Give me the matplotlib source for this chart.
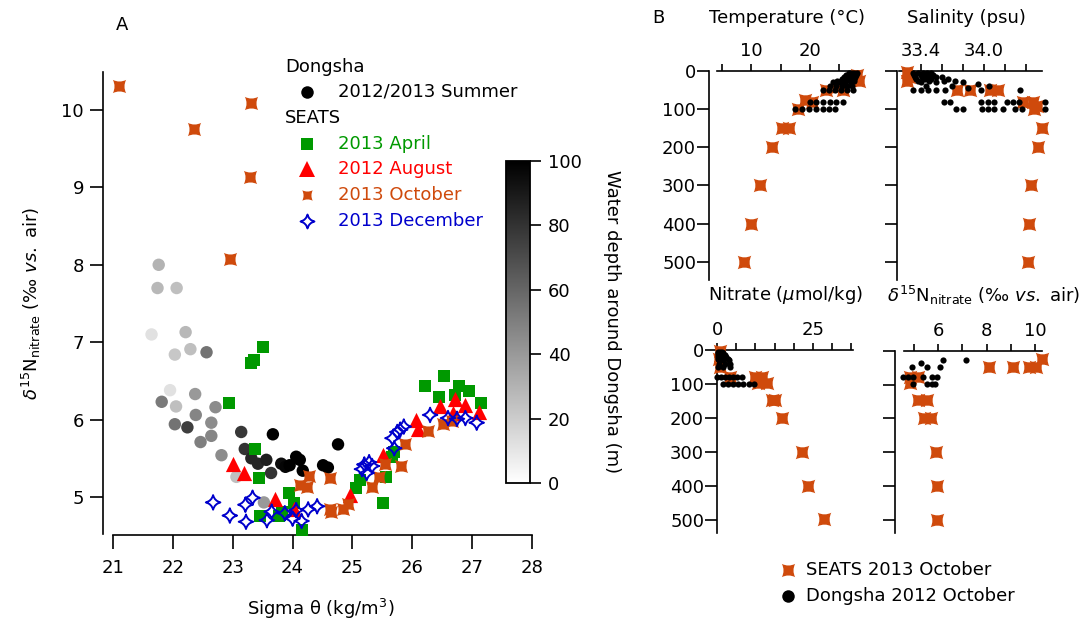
import numpy as np
import matplotlib
matplotlib.use("Agg")
import matplotlib.pyplot as plt
from matplotlib.path import Path
from matplotlib.lines import Line2D

plt.rcParams['font.family'] = ['DejaVu Sans']
plt.rcParams['font.size'] = 13
plt.rcParams['axes.linewidth'] = 1.2

# ---- panel A : d15N vs sigma-theta ----
# Dongsha 2012/2013 summer (colour = water depth, m)
dongsha_sigma = [21.76, 21.74, 22.06, 21.64, 22.21, 22.03, 22.29, 22.56, 21.95, 21.81, 22.05, 22.37, 22.38,
                 22.71, 22.03, 22.24, 22.64, 22.64, 22.46, 22.81, 23.06, 23.52, 23.14, 23.20, 23.31, 23.42,
                 23.56, 23.64, 23.67, 23.81, 23.88, 23.95, 24.06, 24.12, 24.17, 24.51, 24.59, 24.76]
dongsha_d15n = [8.00, 7.70, 7.70, 7.10, 7.13, 6.84, 6.91, 6.87, 6.38, 6.23, 6.17, 6.33, 6.06,
                6.16, 5.94, 5.90, 5.96, 5.79, 5.71, 5.54, 5.26, 4.93, 5.84, 5.62, 5.50, 5.43,
                5.48, 5.31, 5.81, 5.43, 5.39, 5.41, 5.52, 5.48, 5.34, 5.41, 5.38, 5.68]
dongsha_depth = [30, 28, 25, 12, 28, 22, 25, 55, 12, 52, 25, 40, 48,
                 45, 55, 75, 45, 48, 50, 45, 25, 40, 78, 80, 85, 85,
                 88, 80, 100, 95, 98, 100, 100, 100, 100, 100, 100, 100]

# SEATS
apr_sigma = [22.94, 23.31, 23.35, 23.51, 23.37, 23.44, 23.45, 23.78, 23.83, 23.94, 24.03, 24.15, 25.06,
             25.12, 25.51, 25.56, 25.66, 25.70, 26.21, 26.45, 26.53, 26.71, 26.78, 26.95, 27.16]
apr_d15n = [6.21, 6.73, 6.77, 6.94, 5.62, 5.25, 4.75, 4.75, 4.80, 5.05, 4.92, 4.57, 5.12,
            5.22, 4.92, 5.26, 5.52, 5.58, 6.43, 6.29, 6.56, 6.32, 6.44, 6.37, 6.21]
aug_sigma = [23.01, 23.19, 23.71, 24.02, 24.96, 25.51, 26.06, 26.09, 26.47, 26.68, 26.71, 26.89, 27.12]
aug_d15n = [5.43, 5.31, 4.98, 4.84, 5.03, 5.54, 5.99, 5.88, 6.17, 6.08, 6.27, 6.19, 6.10]
oct_sigma = [21.10, 22.35, 23.30, 23.28, 22.96, 24.12, 24.24, 24.27, 24.62, 24.62, 24.64, 24.84, 24.93,
             25.32, 25.44, 25.54, 25.81, 25.88, 26.27, 26.51, 26.66]
oct_d15n = [10.31, 9.75, 10.09, 9.13, 8.08, 5.15, 5.13, 5.27, 5.25, 4.85, 4.80, 4.85, 4.91,
            5.13, 5.26, 5.43, 5.40, 5.69, 5.85, 5.94, 5.98]
dec_sigma = [22.67, 22.95, 23.21, 23.22, 23.33, 23.57, 23.65, 23.87, 24.00, 24.06, 24.15, 24.26, 24.41,
             25.16, 25.20, 25.24, 25.28, 25.33, 25.67, 25.70, 25.75, 25.80, 25.86, 26.30, 26.60, 26.75,
             26.89, 27.08]
dec_d15n = [4.93, 4.76, 4.90, 4.68, 4.99, 4.70, 4.81, 4.79, 4.72, 4.83, 4.69, 4.84, 4.88,
            5.36, 5.42, 5.31, 5.45, 5.40, 5.76, 5.63, 5.84, 5.87, 5.91, 6.06, 6.02, 6.01,
            6.02, 5.96]

# ---- panel B : depth profiles ----
# SEATS 2013 October
prof_t_depth = [10, 25, 43, 50, 50, 77, 80, 100, 150, 150, 200, 300, 400, 500]
prof_temp = [28.0, 28.4, 24.6, 22.8, 25.7, 19.2, 20.3, 18.0, 15.2, 16.5, 13.6, 11.4, 10.0, 8.8]
prof_s_depth = [3, 15, 25, 50, 50, 50, 50, 80, 80, 100, 93, 150, 200, 300, 400, 500]
prof_sal = [33.27, 33.29, 33.27, 33.75, 33.87, 34.06, 34.13, 34.37, 34.47, 34.48, 34.50, 34.55,
            34.51, 34.45, 34.43, 34.42]
prof_n_depth = [3, 25, 50, 78, 78, 78, 98, 98, 147, 147, 199, 299, 400, 498]
prof_nit = [0.8, 0.4, 0.6, 3.3, 9.9, 11.6, 10.7, 13.1, 14.2, 15.1, 16.9, 22.3, 23.7, 28.0]
prof_dn_depth = [25, 47, 47, 47, 47, 77, 77, 96, 146, 146, 200, 200, 300, 400, 500]
prof_dn = [10.3, 8.08, 9.1, 9.76, 10.03, 4.83, 5.18, 4.83, 5.18, 5.52, 5.41, 5.72, 5.90, 5.93, 5.97]

# Dongsha 2012 October
ds_t_depth = [5, 5, 5, 5, 10, 10, 10, 10, 15, 15, 15, 15, 20, 20, 20, 20, 25, 25, 25, 25, 25,
              30, 30, 30, 30, 40, 40, 40, 40, 40, 50, 50, 50, 50, 50, 50,
              80, 80, 80, 80, 80, 80, 100, 100, 100, 100, 100, 100, 100]
ds_temp = [26.6, 27.1, 27.6, 28.1, 26.2, 26.8, 27.3, 27.9, 25.8, 26.5, 27.1, 27.7, 25.4, 26.2, 27.0, 27.6,
           24.6, 25.3, 26.0, 26.8, 27.5, 24.0, 25.0, 26.0, 27.0, 23.4, 24.4, 25.4, 26.4, 27.2,
           22.3, 23.3, 24.3, 25.3, 26.3, 27.3, 20.0, 21.1, 22.2, 23.4, 24.5, 25.6,
           17.5, 18.6, 19.8, 21.0, 22.2, 23.3, 24.3]
ds_s_depth = [5, 5, 5, 5, 5, 10, 10, 10, 10, 15, 15, 15, 15, 15, 20, 20, 20, 20, 25, 25, 25, 25,
              30, 30, 30, 35, 40, 40, 40, 45, 50, 50, 50, 50, 50, 50, 50,
              80, 80, 80, 80, 80, 80, 80, 80, 80, 100, 100, 100, 100, 100, 100, 100, 100, 100]
ds_sal = [33.33, 33.38, 33.42, 33.46, 33.50, 33.34, 33.40, 33.45, 33.52, 33.35, 33.41, 33.47, 33.55, 33.60,
          33.36, 33.44, 33.50, 33.66, 33.38, 33.48, 33.62, 33.73, 33.40, 33.55, 33.80, 33.94,
          33.45, 33.70, 34.05, 33.85, 33.33, 33.40, 33.47, 33.55, 33.63, 33.97, 34.34,
          33.62, 33.68, 33.97, 34.04, 34.10, 34.22, 34.28, 34.33, 34.58,
          33.74, 33.80, 33.98, 34.04, 34.10, 34.18, 34.30, 34.36, 34.58]
ds_n_depth = [5, 5, 5, 10, 10, 10, 15, 15, 15, 20, 20, 20, 25, 25, 25, 30, 30, 30, 40, 40, 40, 50, 50, 50,
              80, 80, 80, 80, 80, 80, 80, 100, 100, 100, 100, 100, 100, 100]
ds_nit = [0.1, 0.6, 1.2, 0.2, 0.8, 1.6, 0.1, 1.0, 2.0, 0.3, 1.2, 2.4, 0.2, 1.4, 2.8, 0.4, 1.6, 3.0,
          0.5, 2.0, 3.4, 0.3, 1.5, 3.2, 0.0, 1.0, 2.0, 3.0, 4.0, 5.2, 6.5, 1.5, 2.8, 4.0, 5.4, 6.8, 8.2, 9.6]
ds_dn_depth = [26, 26, 35, 47, 47, 47, 79, 79, 79, 79, 79, 79, 98, 98, 98, 98]
ds_dn = [6.21, 7.15, 5.28, 4.90, 5.52, 6.07, 4.56, 4.76, 4.97, 5.38, 5.73, 5.96, 4.97, 5.52, 5.73, 5.87]

GREEN = '#009900'
RED = '#ff0000'
ORANGE = '#cf4a0c'
BLUE = '#0000cc'

W, H = 1085, 626


def rect(x0, y0, x1, y1):
    # pixel box -> figure fraction
    return [x0 / W, 1 - y1 / H, (x1 - x0) / W, (y1 - y0) / H]


def concave_star(tips, ctrl):
    verts, codes = [tips[0]], [Path.MOVETO]
    for i in range(4):
        verts += [ctrl[i], tips[(i + 1) % 4]]
        codes += [Path.CURVE3, Path.CURVE3]
    verts.append(tips[0])
    codes.append(Path.CLOSEPOLY)
    return Path(verts, codes)


open_star = concave_star([(0, 1), (1, 0), (0, -1), (-1, 0)],
                         [(0.2, 0.2), (0.2, -0.2), (-0.2, -0.2), (-0.2, 0.2)])
fill_star = concave_star([(1, 1), (1, -1), (-1, -1), (-1, 1)],
                         [(0.5, 0), (0, -0.5), (-0.5, 0), (0, 0.5)])

fig = plt.figure(figsize=(10.85, 6.26), dpi=100)

# ================= panel A =================
axA = fig.add_axes(rect(102.7, 71.7, 531.7, 535.3))
axA.set_xlim(20.823, 28)
axA.set_ylim(4.505, 10.495)
for s in ['top', 'right']:
    axA.spines[s].set_visible(False)
axA.spines['bottom'].set_bounds(21, 28)
axA.spines['left'].set_bounds(4.52, 10.49)
axA.set_xticks(range(21, 29))
axA.set_yticks(range(5, 11))
axA.tick_params(axis='x', direction='out', length=10, width=1.2, pad=7)
axA.tick_params(axis='y', direction='out', length=9.5, width=1.2, pad=4)

sc = axA.scatter(dongsha_sigma, dongsha_d15n, c=dongsha_depth, cmap='gray_r', vmin=0, vmax=100,
                 s=80, linewidths=0, zorder=2)
axA.scatter(apr_sigma, apr_d15n, marker='s', s=70, color=GREEN, linewidths=0, zorder=3)
axA.scatter(aug_sigma, aug_d15n, marker='^', s=120, color=RED, linewidths=0, zorder=4)
axA.scatter(oct_sigma, oct_d15n, marker=fill_star, s=90, color=ORANGE, linewidths=0, zorder=5)
axA.scatter(dec_sigma, dec_d15n, marker=open_star, s=110, facecolors='none', edgecolors=BLUE,
            linewidths=1.4, zorder=6)

axA.set_xlabel('Sigma θ (kg/m$^{3}$)')
axA.xaxis.set_label_coords(0.509, -0.132)
axA.set_ylabel(r'$\delta^{15}$N$_{\mathrm{nitrate}}$ (‰ $\mathit{vs.}$ air)')
axA.yaxis.set_label_coords(-0.14, 0.5)

fig.text(122 / W, 1 - 25 / H, 'A', ha='center', va='center')

# legend for panel A
def fig_marker(x, y, **kw):
    fig.add_artist(Line2D([x / W], [1 - y / H], transform=fig.transFigure, linestyle='none', **kw))


fig.text(285 / W, 1 - 67 / H, 'Dongsha', va='center')
fig_marker(307, 92, marker='o', markersize=9, color='black', markeredgewidth=0)
fig.text(338 / W, 1 - 92 / H, '2012/2013 Summer', va='center')
fig.text(285 / W, 1 - 118 / H, 'SEATS', va='center')
leg_rows = [
    (144, '2013 April', GREEN, dict(marker='s', markersize=8.5, color=GREEN, markeredgewidth=0)),
    (169, '2012 August', RED, dict(marker='^', markersize=11, color=RED, markeredgewidth=0)),
    (195, '2013 October', ORANGE, dict(marker=fill_star, markersize=7.5, color=ORANGE, markeredgewidth=0)),
    (221, '2013 December', BLUE, dict(marker=open_star, markersize=10, markerfacecolor='none',
                                      markeredgecolor=BLUE, markeredgewidth=1.4)),
]
for y, label, col, mk in leg_rows:
    fig_marker(307, y, **mk)
    fig.text(338 / W, 1 - y / H, label, va='center', color=col)

# colour bar for water depth
cax = fig.add_axes(rect(506, 161, 530, 483))
cb = fig.colorbar(sc, cax=cax, ticks=[0, 20, 40, 60, 80, 100])
cb.outline.set_linewidth(1.3)
cax.tick_params(direction='out', length=8, width=1.2, pad=5)
fig.text(612 / W, 1 - 322 / H, 'Water depth around Dongsha (m)', rotation=270,
         ha='center', va='center')

# ================= panel B =================
def profile_axes(box, xlim, ylim, xticks, xlabels, ylabels, xbounds):
    ax = fig.add_axes(rect(*box))
    ax.set_xlim(*xlim)
    ax.set_ylim(*ylim)
    ax.xaxis.tick_top()
    for s in ['bottom', 'right']:
        ax.spines[s].set_visible(False)
    ax.spines['top'].set_bounds(*xbounds)
    ax.set_xticks(xticks)
    ax.set_xticklabels(xlabels)
    ax.set_yticks([0, 100, 200, 300, 400, 500])
    if not ylabels:
        ax.set_yticklabels([])
    ax.tick_params(axis='x', direction='out', length=5, width=1.2, pad=3)
    ax.tick_params(axis='y', direction='out', length=8.5, width=1.2, pad=1)
    return ax


def lab(xs, labels_on):
    return [str(v) if v in labels_on else '' for v in xs]


t_ticks = [5, 10, 15, 20, 25]
axT = profile_axes((709.3, 71, 868.5, 280), (2.833, 30), (548, 0), t_ticks,
                   lab(t_ticks, [10, 20]), True, (4.1, 28.6))
s_ticks = [33.4, 33.6, 33.8, 34.0, 34.2, 34.4]
axS = profile_axes((896.7, 71, 1050, 280), (33.174, 34.627), (548, 0), s_ticks,
                   ['33.4', '', '', '34.0', '', ''], False, (33.2, 34.55))
n_ticks = [0, 5, 10, 15, 20, 25, 30, 35]
axN = profile_axes((717.3, 350, 870, 533), (0, 40), (538, 0), n_ticks,
                   lab(n_ticks, [0, 25]), True, (0, 35.5))
d_ticks = [5, 6, 7, 8, 9, 10]
axD = profile_axes((895, 350.7, 1050, 533), (4.215, 10.62), (538, 0), d_ticks,
                   lab(d_ticks, [6, 8, 10]), False, (4.6, 10.28))

pairs = [(axT, prof_temp, prof_t_depth, ds_temp, ds_t_depth),
         (axS, prof_sal, prof_s_depth, ds_sal, ds_s_depth),
         (axN, prof_nit, prof_n_depth, ds_nit, ds_n_depth),
         (axD, prof_dn, prof_dn_depth, ds_dn, ds_dn_depth)]
for ax, xv, dv, bx, bd in pairs:
    ax.scatter(xv, dv, marker=fill_star, s=95, color=ORANGE, linewidths=0, zorder=3, clip_on=False)
    ax.scatter(bx, bd, marker='o', s=20, color='black', linewidths=0, zorder=4, clip_on=False)

fig.text(787 / W, 1 - 18 / H, 'Temperature (°C)', ha='center', va='center')
fig.text(966 / W, 1 - 18 / H, 'Salinity (psu)', ha='center', va='center')
fig.text(786 / W, 1 - 295 / H, r'Nitrate ($\mu$mol/kg)', ha='center', va='center')
fig.text(984 / W, 1 - 295 / H, r'$\delta^{15}$N$_{\mathrm{nitrate}}$ (‰ $\mathit{vs.}$ air)',
         ha='center', va='center')
fig.text(658 / W, 1 - 18 / H, 'B', ha='center', va='center')

# legend for panel B
fig_marker(788, 570, marker=fill_star, markersize=9.5, color=ORANGE, markeredgewidth=0)
fig.text(806 / W, 1 - 570 / H, 'SEATS 2013 October', va='center')
fig_marker(788, 596, marker='o', markersize=9, color='black', markeredgewidth=0)
fig.text(806 / W, 1 - 596 / H, 'Dongsha 2012 October', va='center')

fig.savefig('out.png', dpi=100)
